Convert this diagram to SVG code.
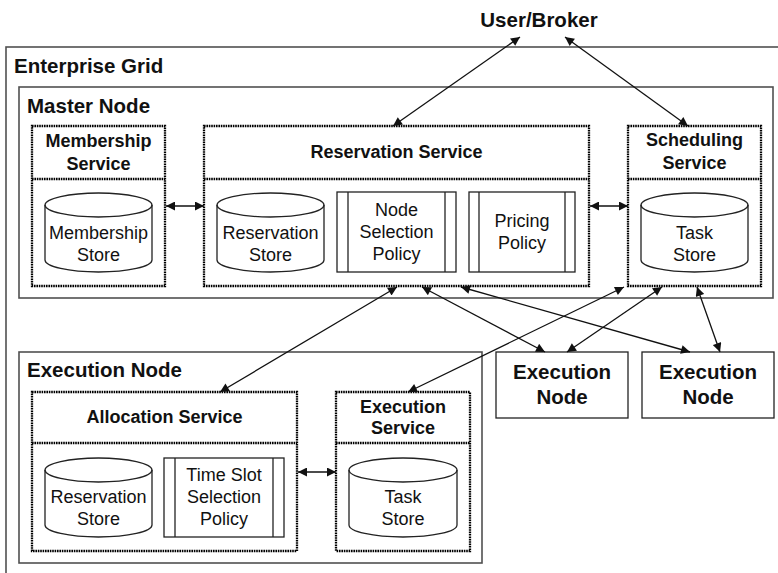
<svg xmlns="http://www.w3.org/2000/svg" width="778" height="573" viewBox="0 0 778 573">
  <style>
    .bg { fill: #ffffff; }
    .frame { fill: none; stroke: #505050; stroke-width: 1.6; }
    .svc { fill: none; stroke: #000; stroke-width: 2.3; stroke-dasharray: 1.6 0.8; }
    .box { fill: #ffffff; stroke: #222; stroke-width: 1.3; }
    .thin { fill: none; stroke: #222; stroke-width: 1.3; }
    .t-big { font-family: "Liberation Sans", Arial, sans-serif; font-weight: bold; font-size: 20.5px; fill: #111; }
    .t-svc { font-family: "Liberation Sans", Arial, sans-serif; font-weight: bold; font-size: 18px; fill: #111; text-anchor: middle; }
    .t-reg { font-family: "Liberation Sans", Arial, sans-serif; font-size: 18px; fill: #111; text-anchor: middle; }
    .conn { fill: none; stroke: #111; stroke-width: 1.3; marker-start: url(#head); marker-end: url(#head); }
  </style>
  <defs>
    <marker id="head" viewBox="0 0 10 10" refX="10" refY="5" markerWidth="11" markerHeight="9" markerUnits="userSpaceOnUse" orient="auto-start-reverse">
      <path d="M0,0 L10,5 L0,10 Z" fill="#111"/>
    </marker>
  </defs>

  <rect class="bg" x="0" y="0" width="778" height="573"/>

  <!-- top-level actor -->
  <g id="user-broker">
    <text class="t-big" x="539" y="27" text-anchor="middle">User/Broker</text>
  </g>

  <!-- enterprise grid boundary -->
  <g id="enterprise-grid">
    <rect class="frame" x="6" y="47" width="790" height="540"/>
    <text class="t-big" x="14" y="73">Enterprise Grid</text>
  </g>

  <!-- master node -->
  <g id="master-node">
    <rect class="frame" x="19" y="87" width="754" height="211"/>
    <text class="t-big" x="27" y="113">Master Node</text>
  </g>

  <g id="membership-service">
    <rect class="svc" x="32" y="126" width="133" height="160"/>
    <line class="svc" x1="32" y1="179" x2="165" y2="179"/>
    <text class="t-svc" x="98.5" y="147">Membership</text>
    <text class="t-svc" x="98.5" y="170">Service</text>
  </g>
  <g id="membership-store">
    <path class="box" d="M45,205 A53.5,12 0 0 1 152,205 L152,260 A53.5,12 0 0 1 45,260 Z"/>
    <path class="thin" d="M45,205 A53.5,12 0 0 0 152,205"/>
    <text class="t-reg" x="98.5" y="239">Membership</text>
    <text class="t-reg" x="98.5" y="261">Store</text>
  </g>

  <g id="reservation-service">
    <rect class="svc" x="204" y="126" width="385" height="160"/>
    <line class="svc" x1="204" y1="179" x2="589" y2="179"/>
    <text class="t-svc" x="396.5" y="158">Reservation Service</text>
  </g>
  <g id="reservation-store">
    <path class="box" d="M217,205 A53.5,12 0 0 1 324,205 L324,260 A53.5,12 0 0 1 217,260 Z"/>
    <path class="thin" d="M217,205 A53.5,12 0 0 0 324,205"/>
    <text class="t-reg" x="270.5" y="239">Reservation</text>
    <text class="t-reg" x="270.5" y="261">Store</text>
  </g>
  <g id="node-selection-policy">
    <rect class="box" x="337" y="192" width="119" height="80"/>
    <line class="thin" x1="348" y1="192" x2="348" y2="272"/>
    <line class="thin" x1="445" y1="192" x2="445" y2="272"/>
    <text class="t-reg" x="396.5" y="216">Node</text>
    <text class="t-reg" x="396.5" y="238">Selection</text>
    <text class="t-reg" x="396.5" y="260">Policy</text>
  </g>
  <g id="pricing-policy">
    <rect class="box" x="469" y="192" width="106" height="80"/>
    <line class="thin" x1="479" y1="192" x2="479" y2="272"/>
    <line class="thin" x1="565" y1="192" x2="565" y2="272"/>
    <text class="t-reg" x="522" y="227">Pricing</text>
    <text class="t-reg" x="522" y="249">Policy</text>
  </g>

  <g id="scheduling-service">
    <rect class="svc" x="628" y="126" width="133" height="160"/>
    <line class="svc" x1="628" y1="179" x2="761" y2="179"/>
    <text class="t-svc" x="694.5" y="146">Scheduling</text>
    <text class="t-svc" x="694.5" y="169">Service</text>
  </g>
  <g id="master-task-store">
    <path class="box" d="M641,205 A53.5,12 0 0 1 748,205 L748,260 A53.5,12 0 0 1 641,260 Z"/>
    <path class="thin" d="M641,205 A53.5,12 0 0 0 748,205"/>
    <text class="t-reg" x="694.5" y="239">Task</text>
    <text class="t-reg" x="694.5" y="261">Store</text>
  </g>

  <!-- execution node with detail -->
  <g id="execution-node-detail">
    <rect class="frame" x="19" y="352" width="463" height="211"/>
    <text class="t-big" x="27" y="377">Execution Node</text>
  </g>

  <g id="allocation-service">
    <rect class="svc" x="32" y="392" width="265" height="159"/>
    <line class="svc" x1="32" y1="443" x2="297" y2="443"/>
    <text class="t-svc" x="164.5" y="423">Allocation Service</text>
  </g>
  <g id="exec-reservation-store">
    <path class="box" d="M45,470 A53.5,12 0 0 1 152,470 L152,525 A53.5,12 0 0 1 45,525 Z"/>
    <path class="thin" d="M45,470 A53.5,12 0 0 0 152,470"/>
    <text class="t-reg" x="98.5" y="503">Reservation</text>
    <text class="t-reg" x="98.5" y="525">Store</text>
  </g>
  <g id="time-slot-selection-policy">
    <rect class="box" x="164" y="458" width="120" height="79"/>
    <line class="thin" x1="175" y1="458" x2="175" y2="537"/>
    <line class="thin" x1="273" y1="458" x2="273" y2="537"/>
    <text class="t-reg" x="224" y="481">Time Slot</text>
    <text class="t-reg" x="224" y="503">Selection</text>
    <text class="t-reg" x="224" y="525">Policy</text>
  </g>

  <g id="execution-service">
    <rect class="svc" x="336" y="392" width="134" height="159"/>
    <line class="svc" x1="336" y1="443" x2="470" y2="443"/>
    <text class="t-svc" x="403" y="413">Execution</text>
    <text class="t-svc" x="403" y="434">Service</text>
  </g>
  <g id="exec-task-store">
    <path class="box" d="M349,470 A54,12 0 0 1 457,470 L457,525 A54,12 0 0 1 349,525 Z"/>
    <path class="thin" d="M349,470 A54,12 0 0 0 457,470"/>
    <text class="t-reg" x="403" y="503">Task</text>
    <text class="t-reg" x="403" y="525">Store</text>
  </g>

  <!-- further execution nodes -->
  <g id="execution-node-2">
    <rect class="box" x="496" y="352" width="132" height="66"/>
    <text class="t-big" x="562" y="379" text-anchor="middle" font-size="21">Execution</text>
    <text class="t-big" x="562" y="404" text-anchor="middle" font-size="21">Node</text>
  </g>
  <g id="execution-node-3">
    <rect class="box" x="642" y="352" width="132" height="66"/>
    <text class="t-big" x="708" y="379" text-anchor="middle" font-size="21">Execution</text>
    <text class="t-big" x="708" y="404" text-anchor="middle" font-size="21">Node</text>
  </g>

  <!-- connectors -->
  <g id="connectors">
    <line class="conn" x1="520" y1="37" x2="393" y2="126"/>
    <line class="conn" x1="565" y1="37" x2="688" y2="126"/>
    <line class="conn" x1="166" y1="206" x2="204" y2="206"/>
    <line class="conn" x1="590" y1="206" x2="628" y2="206"/>
    <line class="conn" x1="397" y1="287" x2="220" y2="392"/>
    <line class="conn" x1="422" y1="287" x2="545" y2="352"/>
    <line class="conn" x1="461" y1="287" x2="690" y2="352"/>
    <line class="conn" x1="624" y1="287" x2="408" y2="392"/>
    <line class="conn" x1="662" y1="287" x2="567" y2="352"/>
    <line class="conn" x1="697" y1="287" x2="720" y2="352"/>
    <line class="conn" x1="298" y1="472" x2="336" y2="472"/>
  </g>
</svg>
